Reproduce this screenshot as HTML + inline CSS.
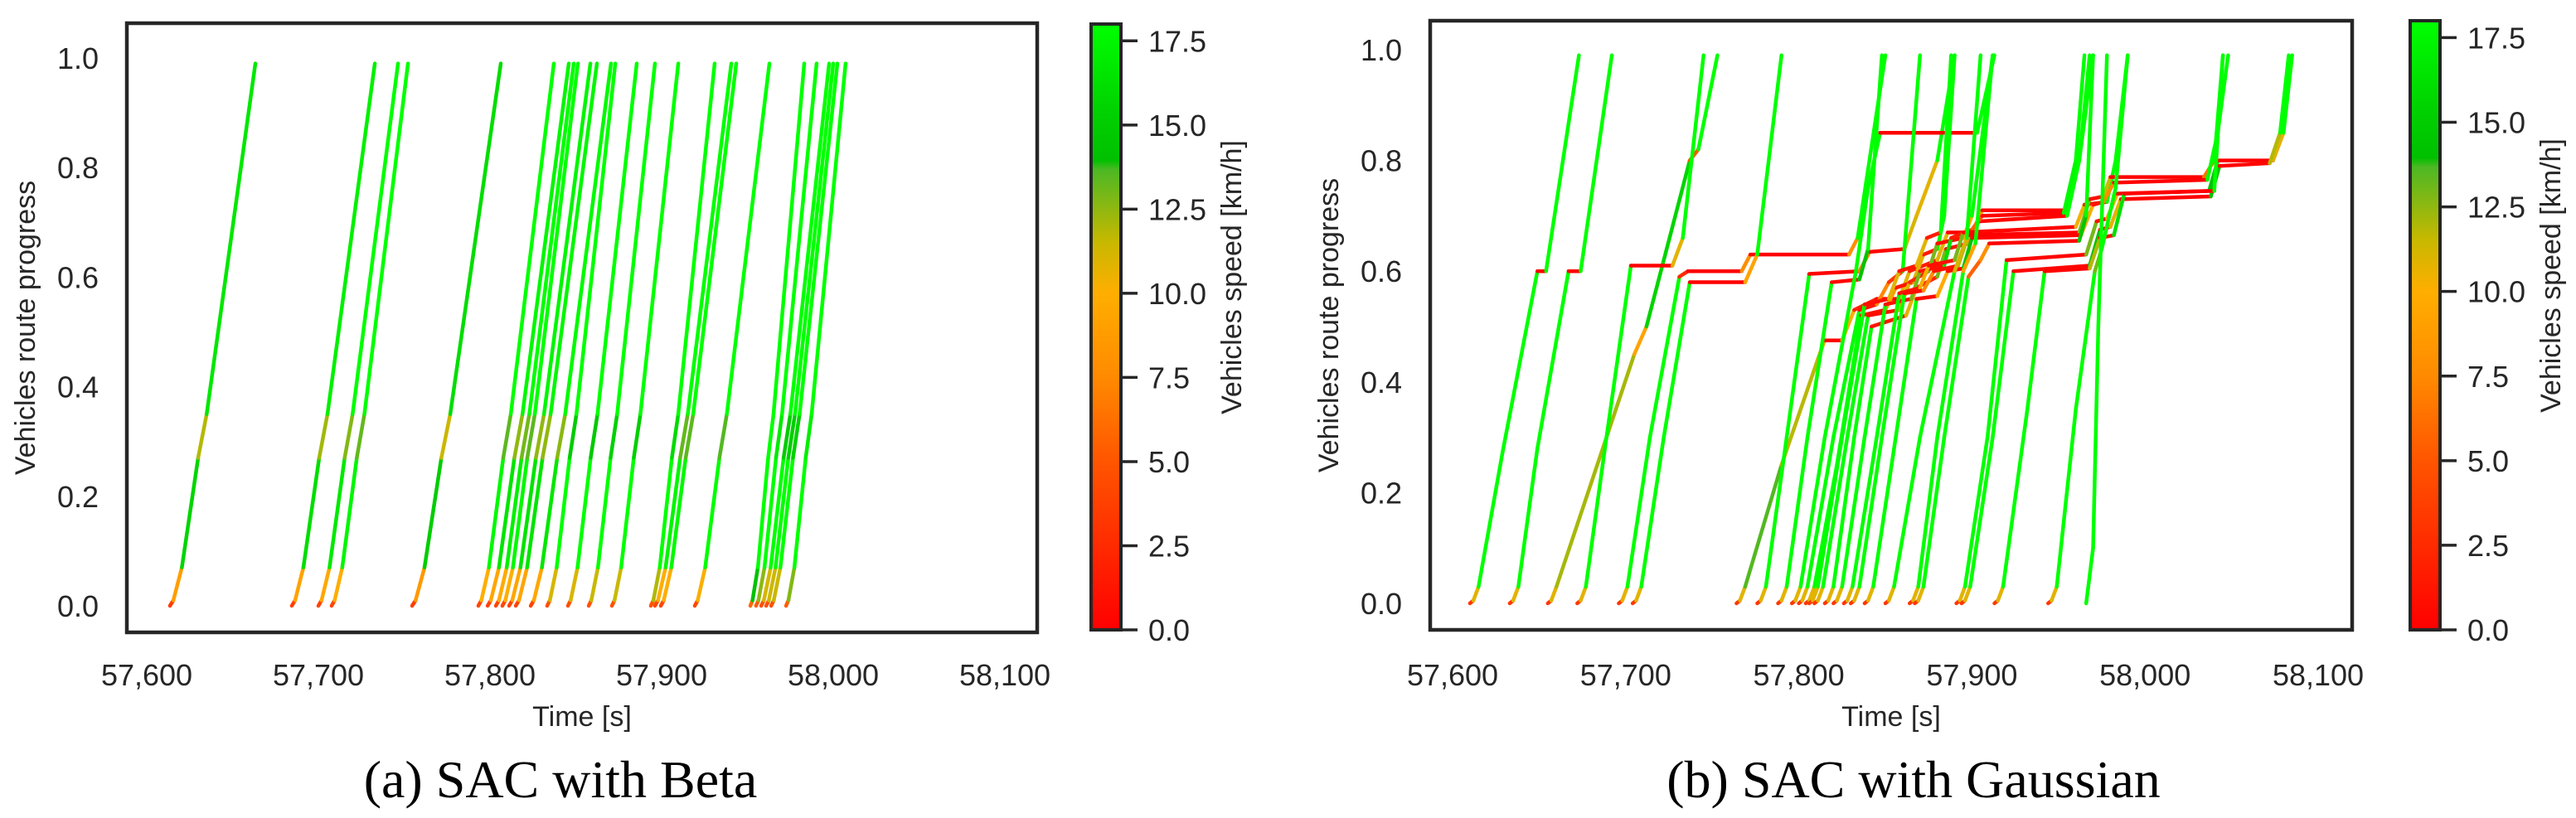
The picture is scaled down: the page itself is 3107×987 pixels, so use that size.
<!DOCTYPE html>
<html><head><meta charset="utf-8">
<style>
html,body{margin:0;padding:0;background:#fff;}
svg{display:block;}
text{font-family:"Liberation Sans",sans-serif;fill:#262626;}
.cap{font-family:"Liberation Serif",serif;fill:#000;}
</style></head>
<body>
<svg id="fig" width="3107" height="987" viewBox="0 0 3107 987" xmlns="http://www.w3.org/2000/svg">
<defs>
<linearGradient id="cmap" x1="0" y1="1" x2="0" y2="0">
<stop offset="0" stop-color="#ff0000"/>
<stop offset="0.278" stop-color="#ff5500"/>
<stop offset="0.417" stop-color="#ff8a00"/>
<stop offset="0.556" stop-color="#ffae00"/>
<stop offset="0.64" stop-color="#c8b800"/>
<stop offset="0.76" stop-color="#4cb824"/>
<stop offset="0.775" stop-color="#00c000"/>
<stop offset="0.85" stop-color="#00d000"/>
<stop offset="1" stop-color="#00ff00"/>
</linearGradient>
</defs>
<g id="panelA"></g>
<g id="panelB"></g>
<text class="cap" x="676" y="962" font-size="64" text-anchor="middle">(a) SAC with Beta</text>
<text class="cap" x="2308" y="962" font-size="64" text-anchor="middle">(b) SAC with Gaussian</text>
</svg>
<script>
// ---- data ----
const xTicks = [57600, 57700, 57800, 57900, 58000, 58100];
const xTickLabels = ["57,600", "57,700", "57,800", "57,900", "58,000", "58,100"];
const yTicks = [0, 0.2, 0.4, 0.6, 0.8, 1.0];
const yTickLabels = ["0.0", "0.2", "0.4", "0.6", "0.8", "1.0"];
const cbTicks = [0, 2.5, 5, 7.5, 10, 12.5, 15, 17.5];
const cbTickLabels = ["0.0", "2.5", "5.0", "7.5", "10.0", "12.5", "15.0", "17.5"];
const speedMax = 18;
// Beta: departure and arrival times of each vehicle
const betaStarts = [57613.5,57684.5,57700,57707.7,57754.6,57793.2,57798.6,57803.4,57807.2,57811.1,57815,57823.7,57833.3,57845.4,57857.5,57871,57893.7,57896.1,57899.5,57919.3,57951.7,57955,57958,57960.9,57963.8,57972.5];
const betaEnds = [57663.3,57732.9,57746.4,57752.2,57806.3,57837.2,57845.9,57848.8,57851.2,57858.5,57862.3,57870.5,57873,57885.5,57896.1,57909.7,57930.9,57940.6,57943.5,57962.8,57983.1,57990.3,57997.6,58000,58002.4,58007.2];
// Beta trajectory profile: fraction of trip time vs progress
const betaProfileT = [0, 0.04, 0.14, 0.33, 0.43, 1];
const betaProfileP = [0, 0.01, 0.07, 0.27, 0.35, 0.99];
// Gaussian: keyframes [t, p, t, p, ...] per vehicle
const gaussTrips = [
[57610,0, 57629,0.275, 57649,0.6, 57654,0.6, 57673,0.99],
[57633,0, 57649,0.28, 57667,0.6, 57674,0.6, 57692,0.99],
[57655,0, 57705,0.45, 57712,0.5, 57737,0.8, 57742,0.82, 57753,0.99],
[57672,0, 57688,0.28, 57703,0.61, 57727,0.61, 57733,0.66, 57745,0.99],
[57696,0, 57714,0.3, 57731,0.59, 57736,0.6, 57767,0.6, 57772,0.63, 57829,0.63, 57834,0.66, 57850,0.99],
[57704,0, 57722,0.3, 57737,0.58, 57769,0.58, 57776,0.63, 57790,0.99],
[57764,0, 57790,0.25, 57812,0.45, 57815,0.475, 57825,0.475, 57832,0.53, 57845,0.55, 57858,0.55, 57864,0.6, 57880,0.62, 57886,0.67, 57900,0.67, 57906,0.71, 57955,0.71, 57962,0.8, 57968,0.99],
[57776,0, 57793,0.3, 57806,0.595, 57835,0.6, 57841,0.635, 57861,0.64, 57868,0.7, 57880,0.8, 57890,0.99],
[57788,0, 57805,0.3, 57819,0.58, 57835,0.585, 57840,0.64, 57848,0.99],
[57796,0, 57815,0.3, 57833,0.6, 57840,0.75, 57847,0.85, 57903,0.85, 57908,0.92, 57913,0.99],
[57800,0, 57820,0.3, 57835,0.53, 57845,0.54, 57852,0.58, 57860,0.6, 57870,0.99],
[57804,0, 57822,0.25, 57836,0.52, 57850,0.53, 57856,0.57, 57866,0.58, 57872,0.63, 57880,0.64, 57884,0.7, 57890,0.99],
[57806,0, 57825,0.3, 57838,0.54, 57852,0.55, 57858,0.6, 57868,0.61, 57874,0.66, 57882,0.67, 57888,0.99],
[57809,0, 57828,0.3, 57840,0.52, 57858,0.53, 57864,0.58, 57875,0.6, 57880,0.65, 57895,0.66, 57900,0.7, 57912,0.99],
[57815,0, 57832,0.3, 57842,0.5, 57862,0.52, 57868,0.57, 57880,0.59, 57885,0.64, 57898,0.65, 57904,0.69, 57955,0.7, 57962,0.8, 57970,0.99],
[57820,0, 57838,0.3, 57850,0.54, 57865,0.55, 57870,0.6, 57884,0.61, 57888,0.66, 57900,0.675, 57906,0.7, 57953,0.705, 57960,0.8, 57965,0.99],
[57826,0, 57845,0.3, 57858,0.56, 57870,0.57, 57875,0.61, 57890,0.62, 57895,0.67, 57960,0.68, 57965,0.72, 57978,0.725, 57983,0.8, 57990,0.99],
[57830,0, 57848,0.3, 57861,0.56, 57872,0.565, 57878,0.6, 57892,0.61, 57898,0.665, 57962,0.67, 57968,0.73, 57976,0.735, 57980,0.77, 58034,0.77, 58040,0.8, 58045,0.99],
[57838,0, 57856,0.3, 57868,0.55, 57880,0.555, 57886,0.6, 57895,0.605, 57900,0.66, 57963,0.665, 57970,0.72, 57976,0.725, 57982,0.76, 58036,0.765, 58042,0.85, 58048,0.99],
[57850,0, 57870,0.3, 57890,0.6, 57897,0.66, 57905,0.99],
[57864,0, 57880,0.3, 57895,0.6, 57902,0.65, 57912,0.99],
[57867,0, 57884,0.3, 57898,0.59, 57905,0.62, 57910,0.65, 57962,0.655, 57966,0.7, 57970,0.99],
[57891,0, 57909,0.3, 57920,0.62, 57966,0.63, 57972,0.69, 57978,0.695, 57984,0.74, 58037,0.745, 58042,0.8, 58074,0.8, 58080,0.85, 58085,0.99],
[57894,0, 57912,0.3, 57924,0.6, 57968,0.61, 57974,0.675, 57980,0.68, 57986,0.73, 58038,0.735, 58043,0.79, 58072,0.795, 58078,0.85, 58083,0.99],
[57913,0, 57932,0.35, 57942,0.6, 57968,0.605, 57974,0.66, 57982,0.665, 57988,0.74, 58040,0.745, 58045,0.99],
[57944,0, 57960,0.35, 57971,0.6, 57975,0.64, 57983,0.75, 57990,0.99],
[57966,0, 57970,0.1, 57973,0.5, 57978,0.99]
];

// ---- rendering ----
const NS = "http://www.w3.org/2000/svg";
function mk(tag, attrs, parent) {
  const e = document.createElementNS(NS, tag);
  for (const k in attrs) e.setAttribute(k, attrs[k]);
  parent.appendChild(e);
  return e;
}
const cstops = [[0,[255,0,0]],[5,[255,85,0]],[7.5,[255,138,0]],[10,[255,174,0]],[11.5,[200,184,0]],[13.7,[76,184,36]],[13.95,[0,192,0]],[15.3,[0,208,0]],[18,[0,255,0]]];
function cmap(v) {
  v = Math.max(0, Math.min(speedMax, v));
  for (let i = 1; i < cstops.length; i++) {
    if (v <= cstops[i][0]) {
      const a = cstops[i-1], b = cstops[i];
      const f = (v - a[0]) / (b[0] - a[0]);
      const c = a[1].map((x, j) => Math.round(x + (b[1][j] - x) * f));
      return "rgb(" + c.join(",") + ")";
    }
  }
  return "rgb(0,255,0)";
}

function drawPanel(g, cfg, trips, routeLen) {
  const X = t => cfg.x0 + (t - 57600) * cfg.xs;
  const Y = p => cfg.y0 - p * cfg.ys;
  const lines = mk("g", {}, g);
  
  
  trips.forEach((pts, vi) => {
    const vg = mk("g", {}, lines);
    
    
    for (let i = 0; i + 1 < pts.length; i++) {
      const [t1, p1] = pts[i], [t2, p2] = pts[i+1];
      const sp = (p2 - p1) / Math.max(0.001, t2 - t1) * routeLen * 3.6;
      mk("line", {x1: X(t1), y1: Y(p1), x2: X(t2), y2: Y(p2), stroke: cmap(sp), "stroke-width": 4.5, "stroke-linecap": "round"}, vg);
    }
  });
  const fr = mk("rect", {x: cfg.fx0, y: cfg.fy0, width: cfg.fx1 - cfg.fx0, height: cfg.fy1 - cfg.fy0, fill: "none", stroke: "#262626", "stroke-width": 4.5}, g);
  
  
  xTicks.forEach((t, i) => {
    const tx = mk("text", {x: X(t), y: 827, "font-size": 36, "text-anchor": "middle"}, g);
    tx.textContent = xTickLabels[i];
    
    
  });
  yTicks.forEach((p, i) => {
    const ty = mk("text", {x: cfg.fx0 - 34, y: Y(p) + 13, "font-size": 36, "text-anchor": "end"}, g);
    ty.textContent = yTickLabels[i];
    
    
  });
  const xt = mk("text", {x: (cfg.fx0 + cfg.fx1) / 2, y: 876, "font-size": 34, "text-anchor": "middle"}, g);
  xt.textContent = "Time [s]";
  
  
  const yt = mk("text", {x: 0, y: 0, "font-size": 34, "text-anchor": "middle", transform: "translate(" + (cfg.fx0 - 111) + "," + ((cfg.fy0 + cfg.fy1) / 2) + ") rotate(-90)"}, g);
  yt.textContent = "Vehicles route progress";
  
  
  const cb = mk("g", {}, g);
  
  
  const CY = v => cfg.cy1 - v / speedMax * (cfg.cy1 - cfg.cy0);
  mk("rect", {x: cfg.cx0, y: cfg.cy0, width: cfg.cx1 - cfg.cx0, height: cfg.cy1 - cfg.cy0, fill: "url(#cmap)", stroke: "#262626", "stroke-width": 4}, cb);
  cbTicks.forEach((v, i) => {
    mk("line", {x1: cfg.cx1, y1: CY(v), x2: cfg.cx1 + 20, y2: CY(v), stroke: "#262626", "stroke-width": 3.5}, cb);
    const tl = mk("text", {x: cfg.cx1 + 33, y: CY(v) + 13, "font-size": 36}, cb);
    tl.textContent = cbTickLabels[i];
    
    
  });
  const cl = mk("text", {x: 0, y: 0, "font-size": 34, "text-anchor": "middle", transform: "translate(" + (cfg.cx1 + 145) + "," + ((cfg.cy0 + cfg.cy1) / 2 - 60) + ") rotate(-90)"}, cb);
  cl.textContent = "Vehicles speed [km/h]";
  
  
}

const betaTrips = betaStarts.map((s, i) => {
  const d = betaEnds[i] - s;
  return betaProfileT.map((f, j) => [s + f * d, betaProfileP[j]]);
});
const gTrips = gaussTrips.map(a => {
  const pts = [];
  for (let i = 0; i < a.length; i += 2) pts.push([a[i], a[i+1]]);
  const t0 = pts[0][0];
  if (pts.length > 1 && pts[1][0] - t0 > 6) pts.splice(1, 0, [t0 + 2, 0.005], [t0 + 5, 0.03]);
  return pts;
});

drawPanel(document.getElementById("panelA"),
  {x0: 177, xs: 2.07, y0: 731, ys: 661, fx0: 153, fx1: 1251, fy0: 28, fy1: 763, cx0: 1316, cx1: 1352, cy0: 29, cy1: 760},
  betaTrips, 205);
drawPanel(document.getElementById("panelB"),
  {x0: 1752, xs: 2.088, y0: 728, ys: 668, fx0: 1725, fx1: 2837, fy0: 25, fy1: 760, cx0: 2907, cx1: 2943, cy0: 25, cy1: 760},
  gTrips, 360);
</script>
</body></html>
